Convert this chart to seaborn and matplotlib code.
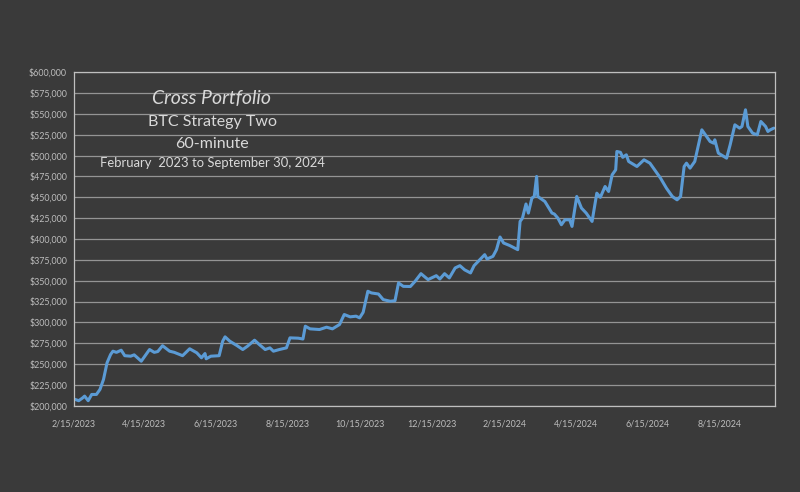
import matplotlib
matplotlib.use("Agg")
import matplotlib.pyplot as plt
import matplotlib.dates as mdates
from matplotlib.ticker import FuncFormatter, MultipleLocator
import seaborn as sns
import pandas as pd

dates = [
    "2023-02-15", "2023-02-19", "2023-02-22", "2023-02-24", "2023-02-27", "2023-03-02", "2023-03-06",
    "2023-03-09", "2023-03-12", "2023-03-15", "2023-03-18", "2023-03-20", "2023-03-23", "2023-03-27",
    "2023-03-30", "2023-04-04", "2023-04-07", "2023-04-13", "2023-04-20", "2023-04-24", "2023-04-27",
    "2023-05-01", "2023-05-07", "2023-05-11", "2023-05-18", "2023-05-24", "2023-05-30", "2023-06-03",
    "2023-06-06", "2023-06-07", "2023-06-11", "2023-06-18", "2023-06-21", "2023-06-23", "2023-06-27",
    "2023-07-03", "2023-07-08", "2023-07-12", "2023-07-18", "2023-07-22", "2023-07-27", "2023-07-31",
    "2023-08-03", "2023-08-08", "2023-08-14", "2023-08-17", "2023-08-24", "2023-08-28", "2023-08-30",
    "2023-09-03", "2023-09-11", "2023-09-17", "2023-09-22", "2023-09-28", "2023-10-02", "2023-10-07",
    "2023-10-12", "2023-10-15", "2023-10-18", "2023-10-22", "2023-10-25", "2023-10-31", "2023-11-04",
    "2023-11-10", "2023-11-14", "2023-11-17", "2023-11-21", "2023-11-27", "2023-12-01", "2023-12-06",
    "2023-12-12", "2023-12-19", "2023-12-22", "2023-12-26", "2023-12-30", "2024-01-04", "2024-01-08",
    "2024-01-12", "2024-01-17", "2024-01-20", "2024-01-25", "2024-01-29", "2024-01-31", "2024-02-05",
    "2024-02-08", "2024-02-11", "2024-02-14", "2024-02-19", "2024-02-26", "2024-02-28", "2024-03-01",
    "2024-03-04", "2024-03-06", "2024-03-09", "2024-03-11", "2024-03-13", "2024-03-14", "2024-03-20",
    "2024-03-26", "2024-03-28", "2024-03-31", "2024-04-03", "2024-04-06", "2024-04-10", "2024-04-12",
    "2024-04-16", "2024-04-20", "2024-04-24", "2024-04-29", "2024-05-03", "2024-05-06", "2024-05-10",
    "2024-05-13", "2024-05-16", "2024-05-19", "2024-05-20", "2024-05-23", "2024-05-25", "2024-05-28",
    "2024-05-30", "2024-06-06", "2024-06-12", "2024-06-17", "2024-06-21", "2024-06-26", "2024-07-01",
    "2024-07-06", "2024-07-10", "2024-07-13", "2024-07-16", "2024-07-18", "2024-07-21", "2024-07-25",
    "2024-07-31", "2024-08-04", "2024-08-07", "2024-08-10", "2024-08-11", "2024-08-14", "2024-08-21",
    "2024-08-24", "2024-08-28", "2024-09-01", "2024-09-03", "2024-09-06", "2024-09-08", "2024-09-12",
    "2024-09-16", "2024-09-19", "2024-09-23", "2024-09-25", "2024-09-27", "2024-09-30",
]

equity = [
    208000, 206000, 209000, 211500, 206000, 213500, 213500,
    219500, 231500, 251500, 261400, 265400, 264000, 266600,
    260000, 259400, 261000, 253400, 267400, 264000, 265000,
    272000, 265400, 264000, 260000, 268300, 263500, 257500,
    262600, 256300, 259400, 260000, 277400, 282600, 277400,
    272200, 267400, 271400, 278600, 273400, 267400, 269400,
    265400, 267400, 269400, 281400, 281000, 280000, 295400,
    292200, 291400, 294200, 292200, 297400, 309400, 306600,
    307400, 305400, 312000, 337300, 335300, 334000, 327300,
    325300, 326000, 347300, 343200, 343000, 349200, 358400,
    351300, 356000, 352000, 358400, 353300, 365300, 368000,
    363000, 359300, 368000, 375300, 381200, 376000, 379200,
    387200, 402400, 395200, 392300, 387200, 421100, 425000,
    442000, 431100, 449100, 451000, 475000, 451000, 445000,
    431100, 430000, 425100, 417100, 423000, 423100, 415100,
    451000, 437100, 431100, 421100, 455000, 450000, 463000,
    457000, 477000, 483000, 505000, 504000, 498000, 501000,
    493000, 487000, 495000, 491000, 483000, 473000, 461000,
    451000, 447000, 451000, 487000, 491000, 485000, 493000,
    531000, 523000, 517000, 515000, 519000, 503000, 497000,
    513000, 537000, 533000, 535000, 555000, 535000, 527000,
    525000, 541000, 535000, 529000, 531000, 533000,
]

title_lines = ["Cross Portfolio", "BTC Strategy Two", "60-minute",
               "February  2023 to September 30, 2024"]

df = pd.DataFrame({"date": pd.to_datetime(dates), "equity": equity})

BG = "#3a3a3a"
TXT = "#d9d9d9"
TICK = "#bdbdbd"
GRID = "#949494"

sns.set_theme(style="dark")
plt.rcParams["font.family"] = ["Lato", "DejaVu Sans"]

fig = plt.figure(figsize=(8, 4.92), dpi=100, facecolor=BG)
ax = fig.add_axes([74 / 800, 1 - 405.7 / 492, (775 - 74) / 800, (405.7 - 72.3) / 492])
ax.set_facecolor(BG)

sns.lineplot(data=df, x="date", y="equity", ax=ax, color="#5b9bd5", linewidth=2.2)

ax.set_ylim(200000, 600000)
ax.set_xlim(pd.Timestamp("2023-02-15"), pd.Timestamp("2024-10-01"))
ax.yaxis.set_major_locator(MultipleLocator(25000))
ax.yaxis.set_major_formatter(FuncFormatter(lambda v, p: f"${v:,.0f}"))
ax.xaxis.set_major_locator(mdates.MonthLocator(bymonth=[2, 4, 6, 8, 10, 12], bymonthday=15))
ax.xaxis.set_major_formatter(FuncFormatter(
    lambda v, p: f"{mdates.num2date(v).month}/{mdates.num2date(v).day}/{mdates.num2date(v).year}"))

ax.grid(axis="y", color=GRID, linewidth=0.9)
ax.grid(axis="x", visible=False)
ax.set_axisbelow(True)
ax.set_xlabel("")
ax.set_ylabel("")
ax.tick_params(axis="both", length=0, colors=TICK, labelsize=6.4)
ax.tick_params(axis="y", pad=5)
ax.tick_params(axis="x", pad=10)
for s in ax.spines.values():
    s.set_visible(True)
    s.set_color("#bfbfbf")
    s.set_linewidth(0.9)

cx = 212 / 800
fig.text(cx, 1 - 99 / 492, title_lines[0], ha="center", va="center", color=TXT,
         fontsize=14, style="italic")
fig.text(cx, 1 - 122 / 492, title_lines[1], ha="center", va="center", color=TXT, fontsize=11.5)
fig.text(cx, 1 - 144 / 492, title_lines[2], ha="center", va="center", color=TXT, fontsize=11.5)
fig.text(cx, 1 - 163 / 492, title_lines[3], ha="center", va="center", color=TXT, fontsize=9.4)

fig.savefig("out.png", dpi=100, facecolor=BG)
